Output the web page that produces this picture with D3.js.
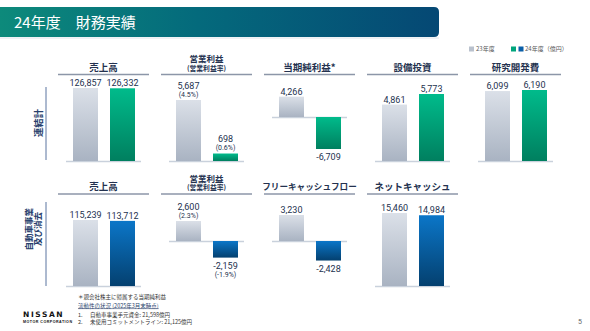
<!DOCTYPE html>
<html><head><meta charset="utf-8">
<script src="https://cdn.jsdelivr.net/npm/d3@7"></script>
<style>body{margin:0;background:#fff}svg{display:block}</style>
</head><body><svg id="c" width="590" height="331"></svg>
<script>
// ---------- data ----------
const pageTitle = "24年度　財務実績";
const years = ["23年度", "24年度"];
const legendLabels = ["23年度", "24年度（億円）"];

const row1Titles = ["売上高", "営業利益", "当期純利益*", "設備投資", "研究開発費"];
const row1Subtitles = ["", "(営業利益率)", "", "", ""];
const row1FY23 = [126857, 5687, 4266, 4861, 6099];
const row1FY24 = [126332, 698, -6709, 5773, 6190];
const row1Rate23 = [null, 4.5, null, null, null];
const row1Rate24 = [null, 0.6, null, null, null];

const row2Titles = ["売上高", "営業利益", "フリーキャッシュフロー", "ネットキャッシュ"];
const row2Subtitles = ["", "(営業利益率)", "", ""];
const row2FY23 = [115239, 2600, 3230, 15460];
const row2FY24 = [113712, -2159, -2428, 14984];
const row2Rate23 = [null, 2.3, null, null];
const row2Rate24 = [null, -1.9, null, null];

const rowLabels = [["連結計"], ["自動車事業", "及び消去"]];
const footNote = "＊親会社株主に帰属する当期純利益";
const liquidityTitle = "流動性の状況 (2025年3月末時点)";
const liquidityItems = ["自動車事業手元資金: 21,598億円", "未使用コミットメントライン: 21,125億円"];
const pageNumber = "5";

// ---------- drawing ----------
const svg = d3.select("#c");
const defs = svg.append("defs");
const JP = "'Noto Sans CJK JP','Noto Sans',sans-serif";
const NUM = "Roboto,'Noto Sans',sans-serif";
const NAVY = "#24324f";

function grad(id, stops, x2, y2) {
  const g = defs.append("linearGradient").attr("id", id)
    .attr("x1", 0).attr("y1", 0).attr("x2", x2).attr("y2", y2);
  stops.forEach(([o, c]) => g.append("stop").attr("offset", o).attr("stop-color", c));
}
grad("gTitle", [[0, "#0d8a7b"], [0.45, "#046a7c"], [1, "#054874"]], 1, 0);
grad("gGray", [[0, "#dbe0e8"], [1, "#a9b3c2"]], 0, 1);
grad("gGreen", [[0, "#00bb8b"], [1, "#007f5f"]], 0, 1);
grad("gBlue", [[0, "#0b76c8"], [1, "#04406f"]], 0, 1);

// title bar
svg.append("path")
  .attr("d", "M0,7 H434 Q439,7 439,12 V32 Q439,37 434,37 H0 Z")
  .attr("fill", "url(#gTitle)");
svg.append("line").attr("x1", 0).attr("x2", 439).attr("y1", 38).attr("y2", 38)
  .attr("stroke", "#dfe4ea").attr("stroke-width", 1);
svg.append("text").attr("x", 14).attr("y", 28).text(pageTitle)
  .attr("fill", "#fff").attr("font-family", JP).attr("font-size", 15);

// legend
const leg = svg.append("g").attr("font-family", JP).attr("font-size", 6).attr("fill", "#555");
leg.append("rect").attr("x", 469).attr("y", 46.5).attr("width", 5).attr("height", 5).attr("fill", "#b9c1cd");
leg.append("text").attr("x", 476).attr("y", 51.3).text(legendLabels[0]);
leg.append("rect").attr("x", 511).attr("y", 46.5).attr("width", 5).attr("height", 5).attr("fill", "#00a57c");
leg.append("rect").attr("x", 518.5).attr("y", 46.5).attr("width", 5).attr("height", 5).attr("fill", "#0a5fa8");
leg.append("text").attr("x", 525).attr("y", 51.3).text(legendLabels[1]);

const panelX = d3.scaleLinear().domain([0, 1]).range([58, 161]);
const PW = 91;

const rows = [
  { titles: row1Titles, subs: row1Subtitles, v23: row1FY23, v24: row1FY24, r23: row1Rate23, r24: row1Rate24,
    underY: 74.5, baseY: 161, zeroY: 117, maxPx: [73, 61, 32, 67, 71], fill24: "url(#gGreen)" },
  { titles: row2Titles, subs: row2Subtitles, v23: row2FY23, v24: row2FY24, r23: row2Rate23, r24: row2Rate24,
    underY: 194, baseY: 286, zeroY: 241, maxPx: [66, 20, 26, 73], fill24: "url(#gBlue)" }
];

const fmt = d3.format(",");
const fmtNum = v => (v < 0 ? "-" : "") + fmt(Math.abs(v));
const fmtRate = v => "(" + (v < 0 ? "-" : "") + Math.abs(v).toFixed(1) + "%)";

rows.forEach(row => {
  row.titles.forEach((t, i) => {
    const left = panelX(i);
    const g = svg.append("g");
    const cx = left + PW / 2;
    g.append("line").attr("x1", left).attr("x2", left + PW).attr("y1", row.underY).attr("y2", row.underY)
      .attr("stroke", "#8c96a8").attr("stroke-width", 1.4);
    if (row.subs[i]) {
      g.append("text").attr("x", cx).attr("y", row.underY - 12.5).attr("text-anchor", "middle")
        .attr("font-family", JP).attr("font-weight", "bold").attr("font-size", 8.5).attr("fill", NAVY).text(t);
      g.append("text").attr("x", cx).attr("y", row.underY - 4).attr("text-anchor", "middle")
        .attr("font-family", JP).attr("font-weight", "bold").attr("font-size", 6.8).attr("fill", NAVY).text(row.subs[i]);
    } else {
      g.append("text").attr("x", cx).attr("y", row.underY - 4).attr("text-anchor", "middle")
        .attr("font-family", JP).attr("font-weight", "bold").attr("font-size", t.length > 8 ? 8.6 : 9.5)
        .attr("fill", NAVY).text(t);
    }

    const vals = [row.v23[i], row.v24[i]];
    const rates = [row.r23[i], row.r24[i]];
    const hasNeg = vals.some(v => v < 0);
    const zero = hasNeg ? row.zeroY : row.baseY;
    const maxAbs = d3.max(vals, v => Math.abs(v));
    const y = d3.scaleLinear().domain([-maxAbs, maxAbs]).range([zero + row.maxPx[i], zero - row.maxPx[i]]);
    const xb = d3.scaleBand().domain(years).range([left + 15, left + 77]).paddingInner(0.3243);

    g.append("line").attr("x1", left + 8).attr("x2", left + 83).attr("y1", y(0) + 0.5).attr("y2", y(0) + 0.5)
      .attr("stroke", "#c9d1dc").attr("stroke-width", 1.4);

    years.forEach((yr, k) => {
      const v = vals[k];
      const top = Math.min(y(v), y(0)), bot = Math.max(y(v), y(0));
      g.append("rect").attr("x", xb(yr)).attr("y", top).attr("width", xb.bandwidth()).attr("height", bot - top)
        .attr("fill", k === 0 ? "url(#gGray)" : row.fill24);
      const bx = xb(yr) + xb.bandwidth() / 2;
      const r = rates[k];
      if (v >= 0) {
        if (r !== null) {
          g.append("text").attr("x", bx).attr("y", top - 3.5).attr("text-anchor", "middle")
            .attr("font-family", NUM).attr("font-size", 7).attr("fill", NAVY).text(fmtRate(r));
          g.append("text").attr("x", bx).attr("y", top - 11.5).attr("text-anchor", "middle")
            .attr("font-family", NUM).attr("font-size", 9).attr("fill", NAVY).text(fmtNum(v));
        } else {
          g.append("text").attr("x", bx).attr("y", top - 2).attr("text-anchor", "middle")
            .attr("font-family", NUM).attr("font-size", 9).attr("fill", NAVY).text(fmtNum(v));
        }
      } else {
        g.append("text").attr("x", bx).attr("y", bot + 11).attr("text-anchor", "middle")
          .attr("font-family", NUM).attr("font-size", 9).attr("fill", NAVY).text(fmtNum(v));
        if (r !== null) {
          g.append("text").attr("x", bx).attr("y", bot + 19).attr("text-anchor", "middle")
            .attr("font-family", NUM).attr("font-size", 7).attr("fill", NAVY).text(fmtRate(r));
        }
      }
    });
  });
});

// row labels
const LBL = "#27406d";
svg.append("line").attr("x1", 46).attr("x2", 46).attr("y1", 87).attr("y2", 160).attr("stroke", "#5a74a0").attr("stroke-width", 1);
svg.append("line").attr("x1", 46).attr("x2", 46).attr("y1", 202).attr("y2", 286).attr("stroke", "#5a74a0").attr("stroke-width", 1);
svg.append("text").attr("transform", "translate(42,123) rotate(-90)").attr("text-anchor", "middle")
  .attr("font-family", JP).attr("font-weight", "bold").attr("font-size", 9.3).attr("fill", LBL).text(rowLabels[0][0]);
rowLabels[1].forEach((t, k) => {
  svg.append("text").attr("transform", `translate(${31.5 + k * 9.5},${k ? 212 : 208}) rotate(-90)`).attr("text-anchor", "end")
    .attr("font-family", JP).attr("font-weight", "bold").attr("font-size", 8.5).attr("fill", LBL).text(t);
});

// footer
const ft = svg.append("g").attr("font-family", JP).attr("font-size", 5.5).attr("fill", "#333");
ft.append("text").attr("x", 78).attr("y", 298.5).text(footNote);
ft.append("text").attr("x", 78).attr("y", 307.5).attr("fill", "#2a3f6b").attr("text-decoration", "underline").text(liquidityTitle);
liquidityItems.forEach((t, k) => {
  ft.append("text").attr("x", 78).attr("y", 316.5 + k * 7).text((k + 1) + ".");
  ft.append("text").attr("x", 90).attr("y", 316.5 + k * 7).text(t);
});

// logo
svg.append("text").attr("x", 23).attr("y", 317).attr("font-family", "'DejaVu Sans',sans-serif").attr("font-weight", "bold")
  .attr("font-size", 7.5).attr("letter-spacing", 1.6).attr("fill", "#111").text("NISSAN");
svg.append("text").attr("x", 23).attr("y", 322.5).attr("font-family", "'Liberation Sans',sans-serif").attr("font-weight", "bold")
  .attr("font-size", 3.6).attr("fill", "#111").attr("textLength", 49).text("MOTOR CORPORATION");

svg.append("text").attr("x", 578).attr("y", 324).attr("font-family", NUM).attr("font-size", 7).attr("fill", "#666").text(pageNumber);
</script>
</body></html>
